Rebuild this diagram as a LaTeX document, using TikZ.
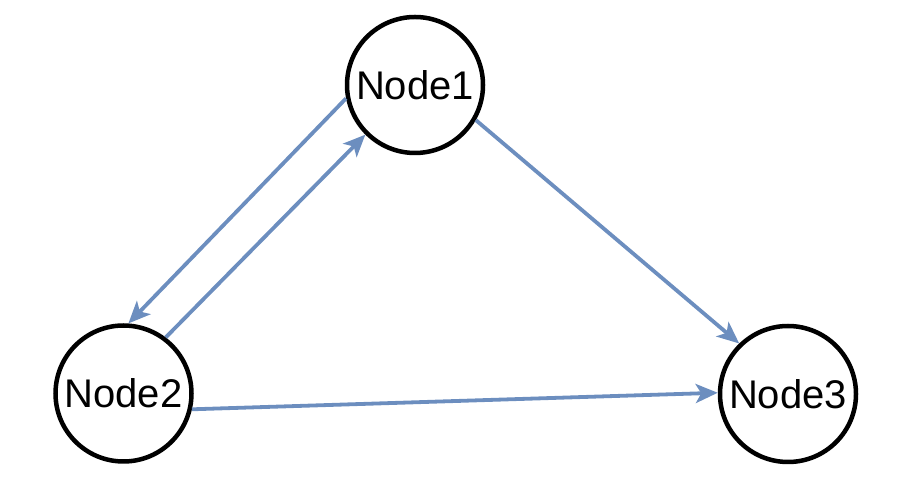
\documentclass[tikz,border=0pt]{standalone}
\usepackage{fontspec}
\setmainfont{Liberation Sans}
\usetikzlibrary{arrows.meta}
\definecolor{edgeblue}{HTML}{6C8EBF}
\begin{document}
\begin{tikzpicture}[x=1pt,y=1pt,
  circ/.style={circle,draw=black,line width=4.5pt,fill=white,minimum size=136pt,inner sep=0pt,font=\fontsize{40}{40}\selectfont},
  conn/.style={draw=edgeblue,line width=3.8pt,-{Stealth[length=22pt,width=19pt,inset=5.5pt]}}]
\useasboundingbox (0,0) rectangle (910,500);
\node[circ] (n1) at (415,415) {Node1};
\node[circ] (n2) at (123.5,106.5) {Node2};
\node[circ] (n3) at (788,106) {Node3};
\draw[conn] (n1.191) -- (n2.86);
\draw[conn] (n2.53) -- (n1.225);
\draw[conn] (n1.-30) -- (n3.134);
\draw[conn] (n2.-13) -- (n3.179);
\end{tikzpicture}
\end{document}
